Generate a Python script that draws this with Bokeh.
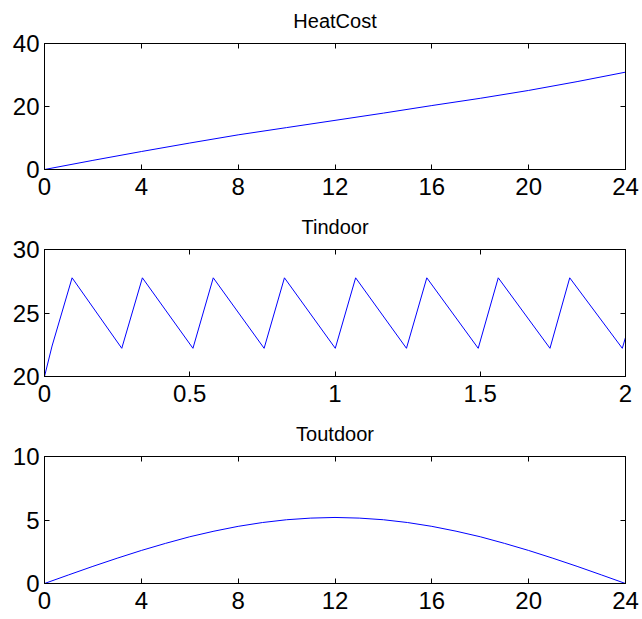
from bokeh.plotting import figure
from bokeh.models import LinearAxis, FixedTicker, Range1d
from bokeh.layouts import column
from bokeh.embed import file_html
from bokeh.resources import INLINE

# ---- data ----
hours = [0, 2, 4, 6, 8, 10, 12, 14, 16, 18, 20, 22, 24]
heat_cost = [0, 2.9, 5.7, 8.4, 11.0, 13.3, 15.6, 17.9, 20.3, 22.6, 25.1, 27.9, 30.9]

t_in = [0, 0.026, 0.095, 0.266, 0.337, 0.511, 0.581, 0.756, 0.826, 1.001, 1.071,
        1.246, 1.316, 1.493, 1.562, 1.740, 1.808, 1.989, 2.0]
tindoor = [20.0, 22.4, 27.77, 22.22, 27.77, 22.22, 27.77, 22.22, 27.77, 22.22, 27.77,
           22.22, 27.77, 22.22, 27.77, 22.22, 27.77, 22.22, 23.08]

hours_out = list(range(25))
toutdoor = [0, 0.68, 1.35, 1.99, 2.60, 3.16, 3.68, 4.12, 4.50, 4.80, 5.02, 5.15, 5.20,
            5.15, 5.02, 4.80, 4.50, 4.12, 3.68, 3.16, 2.60, 1.99, 1.35, 0.68, 0]

titles = ["HeatCost", "Tindoor", "Toutdoor"]
x_ticks_24 = [0, 4, 8, 12, 16, 20, 24]
x_labels_24 = ["0", "4", "8", "12", "16", "20", "24"]
x_ticks_2 = [0, 0.5, 1, 1.5, 2]
x_labels_2 = ["0", "0.5", "1", "1.5", "2"]
y_ticks_cost = [0, 20, 40]
y_ticks_in = [20, 25, 30]
y_ticks_out = [0, 5, 10]

FONT = "Liberation Sans"
TICK_SIZE = "24px"
TITLE_SIZE = "20px"


def make(title, xs, ys, xr, yr, xticks, xlabels, yticks, height, bottom):
    p = figure(width=642, height=height,
               x_range=Range1d(*xr), y_range=Range1d(*yr),
               output_backend="svg", toolbar_location=None,
               min_border_left=44, min_border_right=17,
               min_border_top=42, min_border_bottom=bottom)
    p.background_fill_color = "white"
    p.border_fill_color = "white"
    p.outline_line_color = "black"
    p.outline_line_width = 1
    p.xgrid.visible = False
    p.ygrid.visible = False

    p.title.text = title
    p.title.align = "center"
    p.title.vertical_align = "top"
    p.title.text_font = FONT
    p.title.text_font_size = TITLE_SIZE
    p.title.text_font_style = "normal"
    p.title.text_color = "black"
    p.title.text_line_height = 0.75
    p.title.standoff = 19

    p.line(xs, ys, line_color="#0000ff", line_width=1)

    xl = {float(v): s for v, s in zip(xticks, xlabels)}
    xl.update({int(v): s for v, s in zip(xticks, xlabels) if float(v).is_integer()})

    for ax in p.xaxis:
        ax.ticker = FixedTicker(ticks=xticks)
        ax.major_label_overrides = xl
        ax.major_label_standoff = 8
    for ax in p.yaxis:
        ax.ticker = FixedTicker(ticks=yticks)
        ax.major_label_standoff = 5
    for ax in list(p.xaxis) + list(p.yaxis):
        ax.major_tick_in = 5
        ax.major_tick_out = 0
        ax.minor_tick_line_color = None
        ax.axis_line_color = "black"
        ax.major_tick_line_color = "black"
        ax.major_label_text_font = FONT
        ax.major_label_text_font_size = TICK_SIZE
        ax.major_label_text_color = "black"

    right = LinearAxis(ticker=FixedTicker(ticks=yticks))
    top = LinearAxis(ticker=FixedTicker(ticks=xticks))
    for ax in (right, top):
        ax.major_tick_in = 5
        ax.major_tick_out = 0
        ax.minor_tick_line_color = None
        ax.axis_line_color = "black"
        ax.major_tick_line_color = "black"
        ax.major_label_text_font_size = "0px"
        ax.major_label_standoff = 0
        ax.major_label_text_alpha = 0
    p.add_layout(right, "right")
    p.add_layout(top, "above")
    return p


p1 = make(titles[0], hours, heat_cost, (0, 24), (0, 40), x_ticks_24, x_labels_24,
          y_ticks_cost, 206, 37)
p2 = make(titles[1], t_in, tindoor, (0, 2), (20, 30), x_ticks_2, x_labels_2,
          y_ticks_in, 207, 37)
p3 = make(titles[2], hours_out, toutdoor, (0, 24), (0, 10), x_ticks_24, x_labels_24,
          y_ticks_out, 206, 36)

layout = column(p1, p2, p3, spacing=0)

with open("out.html", "w") as f:
    f.write(file_html(layout, INLINE))
